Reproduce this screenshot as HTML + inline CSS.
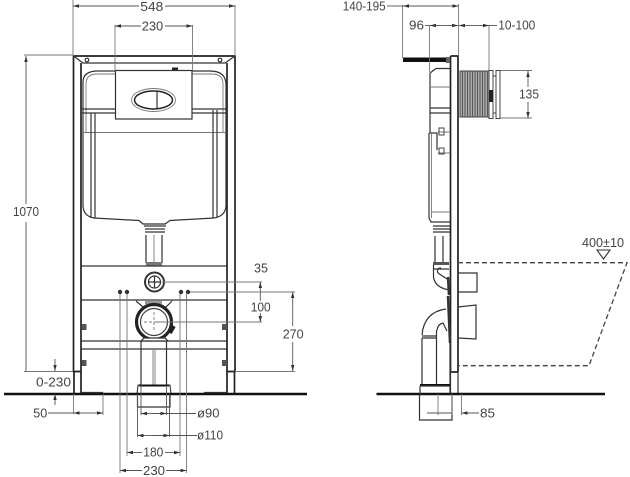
<!DOCTYPE html>
<html><head><meta charset="utf-8"><style>
html,body{margin:0;padding:0;background:#fff;width:630px;height:477px;overflow:hidden}
svg{display:block;filter:blur(.35px)}
text{font-family:"Liberation Sans",sans-serif;font-size:13px;fill:#444}
.d{stroke:#555;stroke-width:.9;fill:none}
.a{stroke:#333;stroke-width:1.2;fill:none}
.b{stroke:#222;stroke-width:1.7;fill:none}
.m{stroke:#777;stroke-width:.9;fill:none}
</style></head><body>
<svg width="630" height="477" viewBox="0 0 630 477" xmlns="http://www.w3.org/2000/svg">
<defs>
<marker id="e" markerWidth="7" markerHeight="5" refX="6" refY="2.5" orient="auto-start-reverse" markerUnits="userSpaceOnUse"><path d="M0 .8L6 2.500L0 4.200z" fill="#333"/></marker>
</defs>
<!-- LEFT: frame -->
<path class="b" d="M73.500 56H235V131M73.500 56V371.500H81M235 56V371.500H227"/>
<path class="b" d="M81 63V393M227 63V393M234.500 371V393M74 371.500V393"/>
<path class="a" d="M73.500 56L83 63H225L235 56"/>
<circle cx="87" cy="60" r="1.800" class="a"/><circle cx="220" cy="60" r="1.800" class="a"/>
<!-- tank -->
<path class="a" d="M115 71H98Q83 71 83 82V205Q83 216 94 218L139 220.500L143 224H165L170 220.500L214 218Q226 216 226 205V85Q226 71 210 71H192"/>
<path class="m" d="M115 74H97Q86 74 86 84V133M192 74H212Q223 74 223 84V133"/>
<path class="a" d="M82 109H115M192 109H226M82 113H115M192 113H226"/>
<path class="m" d="M82 132.500H226"/>
<path class="a" d="M91 113V218M95 113V218M213 110V218M217 110V217"/>
<rect x="115.500" y="70.500" width="76.500" height="48.500" fill="#fff" stroke="#333" stroke-width="1.200"/>
<rect x="172" y="67.500" width="6" height="2.500" fill="#222"/>
<ellipse cx="153.500" cy="100" rx="22" ry="11.500" class="m"/>
<ellipse cx="153.500" cy="100" rx="19" ry="9" fill="none" stroke="#222" stroke-width="1.500"/>
<path class="a" d="M157 92V108"/>
<!-- drain from tank -->
<path class="a" d="M144 226H166M145 229H165M145 232H165"/>
<path class="a" d="M146 235V263M162 235V263"/>
<path class="m" d="M154 235V263"/>
<rect x="146" y="262" width="16" height="4" fill="#777"/>
<!-- rails -->
<path class="a" d="M81 266H227M81 300H227M81 341H227M81 349H227"/>
<!-- circle top -->
<circle cx="154.500" cy="282" r="9.500" fill="#fff" stroke="#333" stroke-width="2"/>
<circle cx="154.500" cy="282" r="6" class="a"/>
<path class="a" d="M154.500 276V288M148.500 282H160.500"/>
<circle cx="120" cy="292" r="2.200" fill="#333"/><circle cx="127" cy="292" r="2.200" fill="#333"/>
<circle cx="181" cy="292" r="2.200" fill="#333"/><circle cx="188" cy="292" r="2.200" fill="#333"/>
<!-- pipe fitting -->
<path class="a" d="M136 301L143 307H166L172 301"/>
<rect x="145" y="301" width="17" height="3" fill="#999"/>
<circle cx="154" cy="322" r="17.500" fill="#fff" stroke="#222" stroke-width="3.200"/>
<circle cx="154" cy="322" r="13.500" fill="#fff" stroke="#444" stroke-width="1.200"/>
<path d="M144 338H165L168 341H141z" fill="#fff" stroke="#333" stroke-width="1.200"/>
<rect x="169" y="325" width="5" height="8" fill="#222" transform="rotate(30 171 329)"/>
<path class="m" stroke-dasharray="3 2" d="M154 312V332M144 322H165"/>
<path class="a" d="M141 341V385M166.500 341V385"/>
<path class="m" d="M153 350V385M155 350V385"/>
<!-- brackets -->
<rect x="81.500" y="324" width="5" height="6" fill="#555"/><rect x="222" y="324" width="5" height="6" fill="#555"/>
<rect x="81.500" y="360" width="5" height="6" fill="#555"/><rect x="222" y="360" width="5" height="6" fill="#555"/>
<!-- bottom pipe -->
<path d="M138 385H170L171 394H137z" fill="#fff" stroke="#333" stroke-width="1.100"/>
<path d="M139 385.500H169" stroke="#111" stroke-width="2"/>
<path class="a" d="M137.500 394V407H170V394"/>
<!-- ground -->
<path stroke="#111" stroke-width="2.600" d="M4 394H307M376.500 394H605"/>
<path class="a" d="M81 392.500H103M204 392.500H227"/>
<!-- LEFT dims -->
<path class="m" d="M73 0V56M235 5V56M115 25V71M192.500 25V71"/>
<path class="d" d="M73 6H139" marker-start="url(#e)"/><path class="d" d="M165 6H235" marker-end="url(#e)"/>
<text x="140.300" y="11" textLength="23" lengthAdjust="spacingAndGlyphs">548</text>
<path class="d" d="M115 26H141" marker-start="url(#e)"/><path class="d" d="M165 26H192.500" marker-end="url(#e)"/>
<text x="141.700" y="30.700" textLength="21.500" lengthAdjust="spacingAndGlyphs">230</text>
<path class="m" d="M24 55H73M24 371.500H73"/>
<path class="d" d="M26 56V204" marker-start="url(#e)"/><path class="d" d="M26 222V371"/>
<text x="13" y="216" textLength="26" lengthAdjust="spacingAndGlyphs">1070</text>
<path class="d" d="M55 359V371" marker-end="url(#e)"/>
<path class="d" d="M55 394V405" marker-start="url(#e)"/>
<text x="36" y="386.700" textLength="35" lengthAdjust="spacingAndGlyphs">0-230</text>
<path class="m" d="M73.500 394V414M103 394V415"/>
<path class="d" d="M48 413H73.500"/><path class="d" d="M73.500 413H88" marker-start="url(#e)"/><path class="d" d="M88 413H103" marker-end="url(#e)"/>
<text x="33.300" y="417.700" textLength="14" lengthAdjust="spacingAndGlyphs">50</text>
<!-- right-hand dims -->
<path class="m" d="M162 282H262M156 322H262M190 292H295M235 371.500H295"/>
<path class="d" d="M260.300 292V282" marker-end="url(#e)"/><path class="d" d="M260.300 292V301"/><path class="d" d="M260.300 313V322" marker-end="url(#e)"/>
<text x="254" y="272.300" textLength="14" lengthAdjust="spacingAndGlyphs">35</text>
<text x="250.700" y="311.700" textLength="20" lengthAdjust="spacingAndGlyphs">100</text>
<path class="d" d="M292.700 292V326" marker-start="url(#e)"/><path class="d" d="M292.700 342V371" marker-end="url(#e)"/>
<text x="282.700" y="338.700" textLength="21" lengthAdjust="spacingAndGlyphs">270</text>
<!-- verticals from holes -->
<path class="m" d="M120 294V473M127 294V456M180 294V456M186.500 294V473"/>
<path class="d" d="M141 385V415M166.500 385V415M137.500 394V437M169.500 394V437"/>
<path class="d" d="M141 413.500H153" marker-start="url(#e)"/><path class="d" d="M153 413.500H196"/>
<path class="d" d="M153 413.500H166.500" marker-end="url(#e)"/>
<text x="197" y="417.700" textLength="22.500" lengthAdjust="spacingAndGlyphs">ø90</text>
<path class="d" d="M137.500 435.500H152" marker-start="url(#e)"/><path class="d" d="M152 435.500H169.500" marker-end="url(#e)"/><path class="d" d="M169.500 435.500H197"/>
<text x="197" y="439.300" textLength="26" lengthAdjust="spacingAndGlyphs">ø110</text>
<path class="d" d="M127 452.500H142" marker-start="url(#e)"/><path class="d" d="M165 452.500H180" marker-end="url(#e)"/>
<text x="143.300" y="456.700" textLength="20" lengthAdjust="spacingAndGlyphs">180</text>
<path class="d" d="M120 470.500H142" marker-start="url(#e)"/><path class="d" d="M166 470.500H186.500" marker-end="url(#e)"/>
<text x="143" y="475" textLength="22" lengthAdjust="spacingAndGlyphs">230</text>

<!-- RIGHT: side view -->
<path class="b" d="M450.500 56H458V372" stroke-width="1.500"/>
<path class="b" d="M450.500 56V372H458" stroke-width="1.500"/>
<path class="a" d="M450.500 372V393M458 372V393"/>
<rect x="403" y="57.500" width="43" height="4.500" fill="#111"/>
<rect x="446" y="57" width="4" height="6" fill="#666"/>
<!-- tank side -->
<path class="a" d="M430 73L436 68.500H450M430 73V108M430 108H450M430 113H450M430 108V133H437V150"/>
<path class="a" d="M429 133V218L431 222H450"/>
<path class="m" d="M431.500 133V218M431 87H450M431 212H450M438 153H450M438 132H450"/>
<rect x="439" y="128" width="5" height="7" fill="none" stroke="#444"/>
<rect x="439" y="148" width="5" height="6" fill="none" stroke="#444"/>
<path class="a" d="M433 226H450M433 229H450M433 232H450M435 236V262M443 236V262"/>
<rect x="433" y="262" width="16" height="3" fill="#555"/>
<path class="a" d="M433.500 265V277Q435 288 450 290M438 273Q436 268 441 268M438 273L447 279M433.500 269H449"/>
<path d="M448 277L449 295M448 296L450 343" stroke="#333" stroke-width="2.500" fill="none"/>
<path class="a" d="M422 335Q424 312 446 309M437 330Q438 324 443 323L447 331M422 336H437M422 338H437M422 338V385M436.500 330V385M450 343V385"/>
<path d="M420 385H450" stroke="#111" stroke-width="2"/>
<path class="a" d="M420 386H450V394M420 386V394M419.500 394V420H452V394"/>
<!-- grooved extender -->
<rect x="460" y="71" width="29" height="46" fill="#aaa" stroke="#444"/>
<path stroke="#444" stroke-width=".8" d="M462.500 71V117M465 71V117M467.500 71V117M470 71V117M472.500 71V117M475 71V117M477.500 71V117M480 71V117M482.500 71V117M485 71V117M487.500 71V117"/>
<rect x="489" y="70.500" width="4" height="48" fill="#fff" stroke="#444"/>
<rect x="496" y="70.500" width="4" height="48" fill="#fff" stroke="#444"/>
<rect x="493" y="76" width="3" height="37" fill="#fff" stroke="#444"/>
<rect x="489" y="90" width="4" height="12" fill="#222"/>
<!-- wall brackets -->
<path class="a" d="M458 273H477V292H458M458 307L476 305V339L458 338"/>
<!-- dashed bowl -->
<path d="M458 262.700H627L589 365.700H458" fill="none" stroke="#444" stroke-width="1.300" stroke-dasharray="5 3"/>
<path d="M597 250H610L603.500 259z" fill="none" stroke="#333" stroke-width="1.100"/>
<text x="582" y="247" textLength="42" lengthAdjust="spacingAndGlyphs">400±10</text>
<!-- right dims -->
<path class="m" d="M402.500 5V58M458.500 4V56M429.500 25V72M489 26V70M500 70.500H532M500 118H532"/>
<path class="d" d="M387 6H403"/><path class="d" d="M403 6H420" marker-start="url(#e)"/><path class="d" d="M420 6H458.500" marker-end="url(#e)"/>
<text x="342.700" y="10.500" textLength="43" lengthAdjust="spacingAndGlyphs">140-195</text>
<path class="d" d="M425 25.500H430"/><path class="d" d="M430 25.500H445" marker-start="url(#e)"/><path class="d" d="M445 25.500H458" marker-end="url(#e)"/>
<text x="409" y="29.500" textLength="15" lengthAdjust="spacingAndGlyphs">96</text>
<path class="d" d="M459 25.500H475" marker-start="url(#e)"/><path class="d" d="M475 25.500H489" marker-end="url(#e)"/><path class="d" d="M489 25.500H497"/>
<text x="498.300" y="29.500" textLength="37" lengthAdjust="spacingAndGlyphs">10-100</text>
<path class="d" d="M528 71V87" marker-start="url(#e)"/><path class="d" d="M528 102V118" marker-end="url(#e)"/>
<text x="519" y="98.500" textLength="20" lengthAdjust="spacingAndGlyphs">135</text>
<path class="m" d="M438 394V415M452 394V415M461.500 394V415"/>
<path class="d" d="M427 413H452"/><path class="d" d="M461.500 413H479" marker-start="url(#e)"/>
<text x="480" y="417.700" textLength="15" lengthAdjust="spacingAndGlyphs">85</text>
</svg>
</body></html>
